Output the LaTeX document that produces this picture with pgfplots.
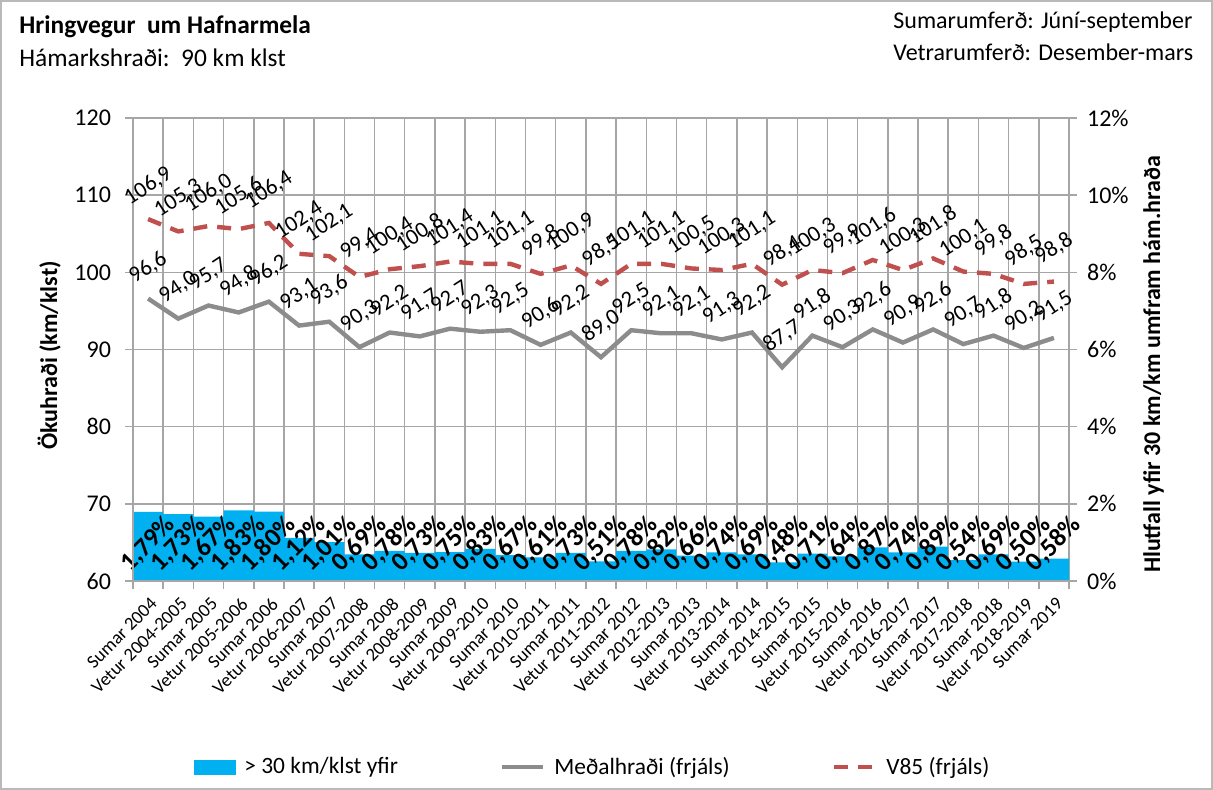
\documentclass[border=0pt]{standalone}
\usepackage{pgfplots}
\pgfplotsset{compat=1.18}
\usepackage{pgfplotstable}
\usepackage{fontspec}
\setmainfont{Carlito}
\definecolor{barblue}{HTML}{00B0F0}
\definecolor{meangray}{HTML}{8C8C8C}
\definecolor{v85red}{HTML}{C0504D}
\definecolor{gridgray}{HTML}{A6A6A6}

\pgfplotstableread{
x bar mean v85
0 1.79 96.6 106.9
1 1.73 94.0 105.3
2 1.67 95.7 106.0
3 1.83 94.8 105.6
4 1.80 96.2 106.4
5 1.12 93.1 102.4
6 1.01 93.6 102.1
7 0.69 90.3 99.4
8 0.78 92.2 100.4
9 0.73 91.7 100.8
10 0.75 92.7 101.4
11 0.83 92.3 101.1
12 0.67 92.5 101.1
13 0.61 90.6 99.8
14 0.73 92.2 100.9
15 0.51 89.0 98.5
16 0.78 92.5 101.1
17 0.82 92.1 101.1
18 0.66 92.1 100.5
19 0.74 91.3 100.3
20 0.69 92.2 101.1
21 0.48 87.7 98.4
22 0.71 91.8 100.3
23 0.64 90.3 99.9
24 0.87 92.6 101.6
25 0.74 90.9 100.3
26 0.89 92.6 101.8
27 0.54 90.7 100.1
28 0.69 91.8 99.8
29 0.50 90.2 98.5
30 0.58 91.5 98.8
}\datatable

\begin{document}
\begin{tikzpicture}
\path[use as bounding box] (0,0) rectangle (606.5pt,395pt);
\draw[gray!55, line width=0.75pt] (0.4pt,0.4pt) rectangle (606.1pt,394.6pt);

% bars (right axis)
\begin{axis}[
  at={(66.5pt,104.5pt)}, anchor=south west,
  width=468pt, height=231.5pt, scale only axis,
  xmin=-0.5, xmax=30.5, ymin=0, ymax=12,
  axis x line*=bottom, axis y line*=right,
  axis line style={gridgray, line width=0.75pt},
  xtick={-0.5,0.5,1.5,2.5,3.5,4.5,5.5,6.5,7.5,8.5,9.5,10.5,11.5,12.5,13.5,14.5,15.5,16.5,17.5,18.5,19.5,20.5,21.5,22.5,23.5,24.5,25.5,26.5,27.5,28.5,29.5,30.5},
  xticklabels={},
  ytick={0,2,4,6,8,10,12},
  yticklabel={\pgfmathprintnumber{\tick}\%},
  grid=major, major grid style={gridgray, line width=0.75pt},
  tick align=outside, major tick length=4pt,
  tick style={gridgray, line width=0.75pt},
  yticklabel style={font=\fontsize{12}{14}\selectfont, xshift=1.5pt},
  /pgf/number format/assume math mode=true,
  ylabel={Hlutfall yfir 30 km/km umfram hám.hraða},
  ylabel style={font=\bfseries\fontsize{12}{14}\selectfont, yshift=-0.5pt, xshift=-7.5pt},
  clip=false,
]
\addplot[ybar, bar width=1, bar shift=0pt, fill=barblue, draw=none,
  nodes near coords={\pgfmathprintnumber[fixed,fixed zerofill,precision=2,use comma]{\pgfplotspointmeta}\%},
  visualization depends on={y \as \rawy},
  every node near coord/.append style={font=\bfseries\fontsize{13}{14}\selectfont, text=black, anchor=center, shift={(axis direction cs:0,{0.96-\rawy})}, rotate=45},
] table[x=x, y=bar] {\datatable};
\end{axis}

% lines (left axis)
\begin{axis}[
  at={(66.5pt,104.5pt)}, anchor=south west,
  width=468pt, height=231.5pt, scale only axis,
  xmin=-0.5, xmax=30.5, ymin=60, ymax=120,
  axis x line*=bottom, axis y line*=left,
  axis line style={gridgray, line width=0.75pt},
  xtick={0,...,30},
  xticklabels={Sumar 2004, Vetur 2004-2005, Sumar 2005, Vetur 2005-2006, Sumar 2006, Vetur 2006-2007, Sumar 2007, Vetur 2007-2008, Sumar 2008, Vetur 2008-2009, Sumar 2009, Vetur 2009-2010, Sumar 2010, Vetur 2010-2011, Sumar 2011, Vetur 2011-2012, Sumar 2012, Vetur 2012-2013, Sumar 2013, Vetur 2013-2014, Sumar 2014, Vetur 2014-2015, Sumar 2015, Vetur 2015-2016, Sumar 2016, Vetur 2016-2017, Sumar 2017, Vetur 2017-2018, Sumar 2018, Vetur 2018-2019, Sumar 2019},
  xtick style={draw=none},
  xticklabel style={rotate=45, anchor=north east, font=\fontsize{9.3}{10}\selectfont, inner sep=1pt, yshift=-2pt, xshift=-1pt},
  ytick={60,70,80,90,100,110,120},
  ytick style={gridgray, line width=0.75pt},
  tick align=outside, major tick length=4pt,
  yticklabel style={font=\fontsize{12}{14}\selectfont, xshift=-3.5pt},
  /pgf/number format/assume math mode=true,
  ylabel={Ökuhraði (km/klst)},
  ylabel style={font=\bfseries\fontsize{12}{14}\selectfont, xshift=-3pt},
  clip=false,
  legend style={at={(0.492,-0.402)}, anchor=center, draw=none, fill=none,
    legend columns=3, font=\fontsize{11.7}{14}\selectfont,
    /tikz/every odd column/.append style={column sep=2.5pt},
    /tikz/every even column/.append style={column sep=49pt}},
  legend cell align=left,
  legend image post style={scale=1.2},
]
\addlegendimage{area legend, fill=barblue, draw=barblue}
\addlegendentry{> 30 km/klst yfir}
\addplot[meangray, line width=2.2pt, mark=none,
  nodes near coords={\pgfmathprintnumber[fixed,fixed zerofill,precision=1,use comma]{\pgfplotspointmeta}},
  every node near coord/.append style={text=black, font=\fontsize{11.3}{12}\selectfont, anchor=center, yshift=15.5pt, rotate=33},
] table[x=x, y=mean] {\datatable};
\addlegendentry{Meðalhraði (frjáls)}
\addplot[v85red, line width=2.2pt, mark=none, dash pattern=on 7pt off 5pt,
  nodes near coords={\pgfmathprintnumber[fixed,fixed zerofill,precision=1,use comma]{\pgfplotspointmeta}},
  every node near coord/.append style={text=black, font=\fontsize{11.3}{12}\selectfont, anchor=center, yshift=16.5pt, rotate=33},
] table[x=x, y=v85] {\datatable};
\addlegendentry{V85 (frjáls)}
\end{axis}

\node[anchor=west, inner sep=0pt, font=\bfseries\fontsize{12.7}{14}\selectfont] at (9.5pt,381.5pt) {Hringvegur\ \ um Hafnarmela};
\node[anchor=west, inner sep=0pt, font=\fontsize{12.7}{14}\selectfont] at (9.5pt,366pt) {Hámarkshraði:\ \ 90 km klst};
\node[anchor=west, inner sep=0pt, font=\fontsize{12}{14}\selectfont] at (446.5pt,384pt) {Sumarumferð: Júní-september};
\node[anchor=west, inner sep=0pt, font=\fontsize{12}{14}\selectfont] at (446.5pt,369pt) {Vetrarumferð: Desember-mars};
\end{tikzpicture}
\end{document}
